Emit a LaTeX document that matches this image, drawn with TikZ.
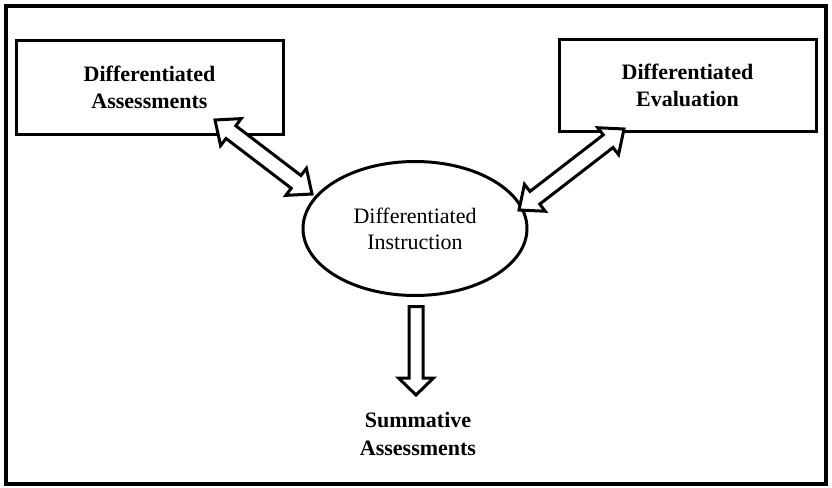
\documentclass[tikz,border=0pt]{standalone}
\usepackage{fontspec}
\setmainfont{Liberation Serif}
\usetikzlibrary{calc,shapes.geometric}
\tikzset{
  frame/.style={draw, line width=4pt},
  boxnode/.style={draw, line width=3pt, inner sep=0pt, align=center, font=\fontsize{22}{27}\selectfont\bfseries},
  ellnode/.style={draw, ellipse, line width=3pt, inner sep=0pt, align=center, font=\fontsize{22}{26}\selectfont},
  plaintext/.style={inner sep=0pt, align=center, font=\fontsize{22}{28}\selectfont\bfseries},
  hollowarrow/.style={draw, line width=3pt, fill=white, line join=miter, miter limit=10},
}
\newcommand{\twowayarrow}[5]{% A, B, head length, head half width, shaft half width
  \draw[hollowarrow] (#1)
   -- ($(#1)!#3!(#2)!#4!90:(#2)$)
   -- ($(#1)!#3!(#2)!#5!90:(#2)$)
   -- ($(#2)!#3!(#1)!#5!-90:(#1)$)
   -- ($(#2)!#3!(#1)!#4!-90:(#1)$)
   -- (#2)
   -- ($(#2)!#3!(#1)!#4!90:(#1)$)
   -- ($(#2)!#3!(#1)!#5!90:(#1)$)
   -- ($(#1)!#3!(#2)!#5!-90:(#2)$)
   -- ($(#1)!#3!(#2)!#4!-90:(#2)$)
   -- cycle;}
\newcommand{\onewayarrow}[5]{% tail A, tip B
  \draw[hollowarrow] ($(#1)!#5!90:(#2)$)
   -- ($(#2)!#3!(#1)!#5!-90:(#1)$)
   -- ($(#2)!#3!(#1)!#4!-90:(#1)$)
   -- (#2)
   -- ($(#2)!#3!(#1)!#4!90:(#1)$)
   -- ($(#2)!#3!(#1)!#5!90:(#1)$)
   -- ($(#1)!#5!-90:(#2)$)
   -- cycle;}
\begin{document}
\begin{tikzpicture}[x=1pt,y=-1pt]
\useasboundingbox (0,0) rectangle (832,487);
\draw[frame] (5.5,6.5) rectangle (825.5,484);

\node[boxnode, minimum width=267pt, minimum height=93pt] (assess) at (149.5,87.5) {Differentiated\\Assessments};
\node[boxnode, minimum width=257pt, minimum height=92pt] (eval) at (687.5,85.5) {Differentiated\\Evaluation};
\node[ellnode, minimum width=224pt, minimum height=134pt] (instr) at (415,228.5) {Differentiated\\Instruction};
\node[plaintext] (summ) at (418,434) {Summative\\Assessments};

\coordinate (la) at (215,120);
\coordinate (lb) at (312,194);
\coordinate (ra) at (519,210);
\coordinate (rb) at (624,129);
\coordinate (da) at (416,306.5);
\coordinate (db) at (416,395);

\twowayarrow{la}{lb}{20pt}{17pt}{8pt}
\twowayarrow{ra}{rb}{20pt}{17pt}{8pt}
\onewayarrow{da}{db}{17pt}{17.5pt}{7pt}
\end{tikzpicture}
\end{document}
